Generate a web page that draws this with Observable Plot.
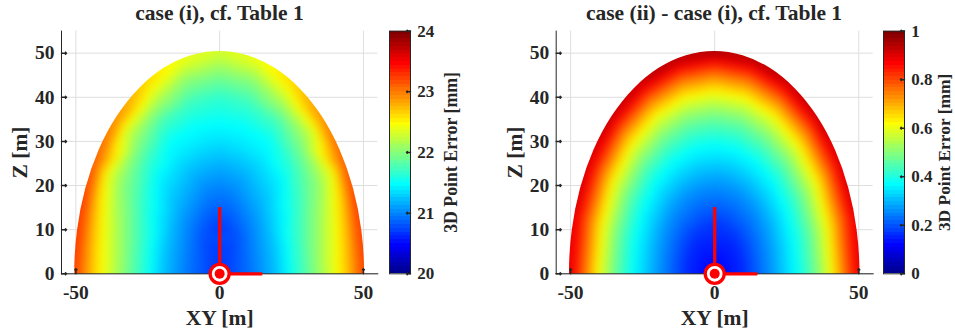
<!DOCTYPE html>
<html><head><meta charset="utf-8">
<script src="https://cdn.jsdelivr.net/npm/d3@7"></script>
<script src="https://cdn.jsdelivr.net/npm/@observablehq/plot@0.6"></script>
<style>
html,body{margin:0;padding:0;background:#fff;}
#root{position:relative;width:955px;height:336px;overflow:hidden;font-family:"Liberation Serif","Times New Roman",serif;font-weight:bold;color:#262626;}
.title{position:absolute;top:3px;font-size:21.5px;line-height:1;white-space:nowrap;transform:translateX(-50%);}
.box{position:absolute;top:0;height:336px;}
</style></head><body><div id="root"></div>
<script>
// ---- data ----
const ranges = [10, 20, 30, 35, 40, 45, 50];               // m
const angles = [0, 15, 30, 45, 60, 75, 90, 105, 120, 135, 150, 165, 180]; // deg from +XY
const case1Center = 20.65;
const case1 = [
  [20.90,20.90,20.88,20.82,20.77,20.72,20.70,20.72,20.77,20.82,20.88,20.90,20.90],
  [21.25,21.25,21.22,21.15,21.10,21.02,21.00,21.02,21.10,21.15,21.22,21.25,21.25],
  [21.80,21.78,21.62,21.43,21.38,21.37,21.35,21.37,21.38,21.43,21.62,21.78,21.80],
  [22.10,22.05,21.85,21.65,21.50,21.50,21.50,21.50,21.50,21.65,21.85,22.05,22.10],
  [22.40,22.32,22.05,21.94,21.75,21.70,21.65,21.70,21.75,21.94,22.05,22.32,22.40],
  [22.75,22.70,22.40,22.25,22.18,22.00,21.95,22.00,22.18,22.25,22.40,22.70,22.75],
  [23.20,23.25,23.10,22.90,22.62,22.40,22.30,22.40,22.62,22.90,23.10,23.25,23.20]
];
const diffCenter = 0.11;
const diff = [
  [0.16,0.16,0.16,0.16,0.16,0.16,0.16,0.16,0.16,0.16,0.16,0.16,0.16],
  [0.27,0.27,0.265,0.26,0.26,0.26,0.26,0.26,0.26,0.26,0.265,0.27,0.27],
  [0.39,0.39,0.385,0.38,0.38,0.38,0.38,0.38,0.38,0.38,0.385,0.39,0.39],
  [0.48,0.48,0.475,0.47,0.47,0.465,0.465,0.465,0.47,0.47,0.475,0.48,0.48],
  [0.60,0.60,0.59,0.585,0.58,0.58,0.58,0.58,0.58,0.585,0.59,0.60,0.60],
  [0.75,0.75,0.745,0.74,0.74,0.74,0.74,0.74,0.74,0.74,0.745,0.75,0.75],
  [0.89,0.89,0.90,0.91,0.92,0.93,0.94,0.93,0.92,0.91,0.90,0.89,0.89]
];
const xTicks = [-50, 0, 50];
const zTicks = [0, 10, 20, 30, 40, 50];
const cbTicks1 = [20, 21, 22, 23, 24];
const cbTicks2 = [0, 0.2, 0.4, 0.6, 0.8, 1];
const cbDomain1 = [20, 24];
const cbDomain2 = [0, 1];
const cameraAxisLength = 15;
const shapeRadius = 50.4;
const titles = ["case (i), cf. Table 1", "case (ii) - case (i), cf. Table 1"];
const cbLabel = "3D Point Error [mm]";

// ---- helpers ----
const INK = "#262626";
const FONT = '"Liberation Serif","Times New Roman",serif';
function jet(m){
  const n = Math.ceil(m/4), u = [];
  for (let i=1;i<=n;i++) u.push(i/n);
  for (let i=1;i<n;i++) u.push(1);
  for (let i=n;i>=1;i--) u.push(i/n);
  const g0 = Math.ceil(n/2) - (m%4===1?1:0);
  const J = Array.from({length:m}, ()=>[0,0,0]);
  u.forEach((val,k)=>{ const g=g0+k+1, r=g+n, b=g-n;
    if(r>=1&&r<=m) J[r-1][0]=val; if(g>=1&&g<=m) J[g-1][1]=val; if(b>=1&&b<=m) J[b-1][2]=val; });
  return J.map(([r,g,b])=>d3.rgb(r*255,g*255,b*255).formatHex());
}
const JET = jet(64);
function colorScale([lo,hi]){
  return {type:"threshold", domain: d3.range(1,64).map(i=>lo+(hi-lo)*i/64), range: JET};
}
function samplesOf(center, rows){
  const s = [{x:0, y:0, v:center}];
  rows.forEach((row,i)=>row.forEach((v,j)=>{
    const a = angles[j]*Math.PI/180;
    s.push({x: ranges[i]*Math.cos(a), y: ranges[i]*Math.sin(a), v});
  }));
  return s;
}
const fmt = d => String(d);
const root = document.getElementById("root");
function place(node, left, width){
  const d = document.createElement("div");
  d.className = "box"; d.style.left = left+"px"; d.style.width = width+"px";
  d.appendChild(node); root.appendChild(d);
}
let clipId = 0;
function panel(samples, domain, left, marginLeft, marginRight){
  const plot = Plot.plot({
    width: 400, height: 336, marginLeft, marginRight, marginTop: 30.6, marginBottom: 62.7,
    x: {domain: [-55, 55]}, y: {domain: [0, 55]},
    color: colorScale(domain),
    style: {fontFamily: FONT, fontSize: "19.5px", fontWeight: "bold", color: INK, background: "transparent", overflow: "visible"},
    marks: [
      Plot.gridX(xTicks, {stroke: "#dedede", strokeOpacity: 1}),
      Plot.gridY(zTicks, {stroke: "#dedede", strokeOpacity: 1}),
      Plot.raster(samples, {x: "x", y: "y", fill: "v", interpolate: "barycentric", blur: 4}),
      Plot.frame({anchor: "left", stroke: INK}),
      Plot.frame({anchor: "bottom", stroke: INK}),
      Plot.vector(zTicks, {y: d=>d, frameAnchor: "left", length: 5, rotate: 90, anchor: "start", stroke: INK}),
      Plot.vector(xTicks, {x: d=>d, frameAnchor: "bottom", length: 5, rotate: 0, anchor: "start", stroke: INK}),
      Plot.axisX(xTicks, {tickSize: 0, tickPadding: 11, label: null, tickFormat: fmt, fontSize: 19.5, fontWeight: "bold", fill: INK}),
      Plot.axisY(zTicks, {tickSize: 0, tickPadding: 7, label: null, tickFormat: fmt, fontSize: 19.5, fontWeight: "bold", fill: INK}),
      Plot.text(["XY [m]"], {text: d=>d, frameAnchor: "bottom", dy: 44.4, fontSize: 21.5, fontWeight: "bold", textAnchor: "middle", lineAnchor: "middle", fill: INK}),
      Plot.text(["Z [m]"], {text: d=>d, frameAnchor: "left", dx: -41.2, rotate: -90, fontSize: 21.5, fontWeight: "bold", textAnchor: "middle", lineAnchor: "middle", fill: INK}),
      Plot.ruleX([0], {y1: 0, y2: cameraAxisLength, stroke: "#ff0000", strokeWidth: 3.3}),
      Plot.ruleY([0], {x1: 0, x2: cameraAxisLength, stroke: "#ff0000", strokeWidth: 3.3}),
      Plot.dot([[0,0]], {r: 9.5, stroke: "#ff0000", strokeWidth: 3.3, fill: "white"}),
      Plot.dot([[0,0]], {r: 5, fill: "#ff0000"})
    ]
  });
  // clip the interpolated raster to the measured half-disc
  const sx = plot.scale("x"), sy = plot.scale("y");
  const cx = sx.apply(0), cy = sy.apply(0);
  const rx = sx.apply(shapeRadius) - cx, ry = cy - sy.apply(shapeRadius);
  const ns = "http://www.w3.org/2000/svg";
  const id = "clip" + (clipId++);
  const defs = document.createElementNS(ns, "defs");
  const cp = document.createElementNS(ns, "clipPath"); cp.setAttribute("id", id);
  const el = document.createElementNS(ns, "ellipse");
  el.setAttribute("cx", cx); el.setAttribute("cy", cy); el.setAttribute("rx", rx); el.setAttribute("ry", ry);
  cp.appendChild(el); defs.appendChild(cp); plot.insertBefore(defs, plot.firstChild);
  const rg = plot.querySelector('g[aria-label="raster"]');
  if (rg) {
    const wrap = document.createElementNS(ns, "g");
    wrap.setAttribute("clip-path", `url(#${id})`);
    rg.parentNode.insertBefore(wrap, rg); wrap.appendChild(rg);
  }
  place(plot, left, 400);
}
function colorbar(domain, ticks, left, width, labelDx, labelSize){
  const [lo, hi] = domain, step = (hi-lo)/64;
  const levels = d3.range(64).map(i => lo + i*step);
  const plot = Plot.plot({
    width, height: 336, marginLeft: 5, marginRight: width-26, marginTop: 30.6, marginBottom: 62.7,
    x: {domain: [0, 1], axis: null},
    y: {domain},
    color: colorScale(domain),
    style: {fontFamily: FONT, fontSize: "17px", fontWeight: "bold", color: INK, background: "transparent", overflow: "visible"},
    marks: [
      Plot.rect(levels, {x1: 0, x2: 1, y1: d=>d, y2: d=>d+step, fill: d=>d+step/2, shapeRendering: "crispEdges"}),
      Plot.frame({stroke: INK}),
      Plot.vector(ticks, {y: d=>d, frameAnchor: "right", length: 4, rotate: -90, anchor: "start", stroke: INK}),
      Plot.axisY(ticks, {anchor: "right", tickSize: 0, tickPadding: 6.7, label: null, tickFormat: fmt, fontSize: 17, fontWeight: "bold", fill: INK}),
      Plot.text([cbLabel], {text: d=>d, frameAnchor: "right", dx: labelDx, rotate: -90, fontSize: labelSize, fontWeight: "bold", textAnchor: "middle", lineAnchor: "middle", fill: INK})
    ]
  });
  place(plot, left, width);
}
function title(text, center){
  const d = document.createElement("div");
  d.className = "title"; d.style.left = center+"px"; d.textContent = text;
  root.appendChild(d);
}

panel(samplesOf(case1Center, case1), cbDomain1, 0, 61, 22.7);
panel(samplesOf(diffCenter, diff), cbDomain2, 480, 75.7, 7.3);
colorbar(cbDomain1, cbTicks1, 384, 95, 40.3, 17.8);
colorbar(cbDomain2, cbTicks2, 878.3, 77, 40.0, 17.4);
title(titles[0], 219.5);
title(titles[1], 714);
</script></body></html>
